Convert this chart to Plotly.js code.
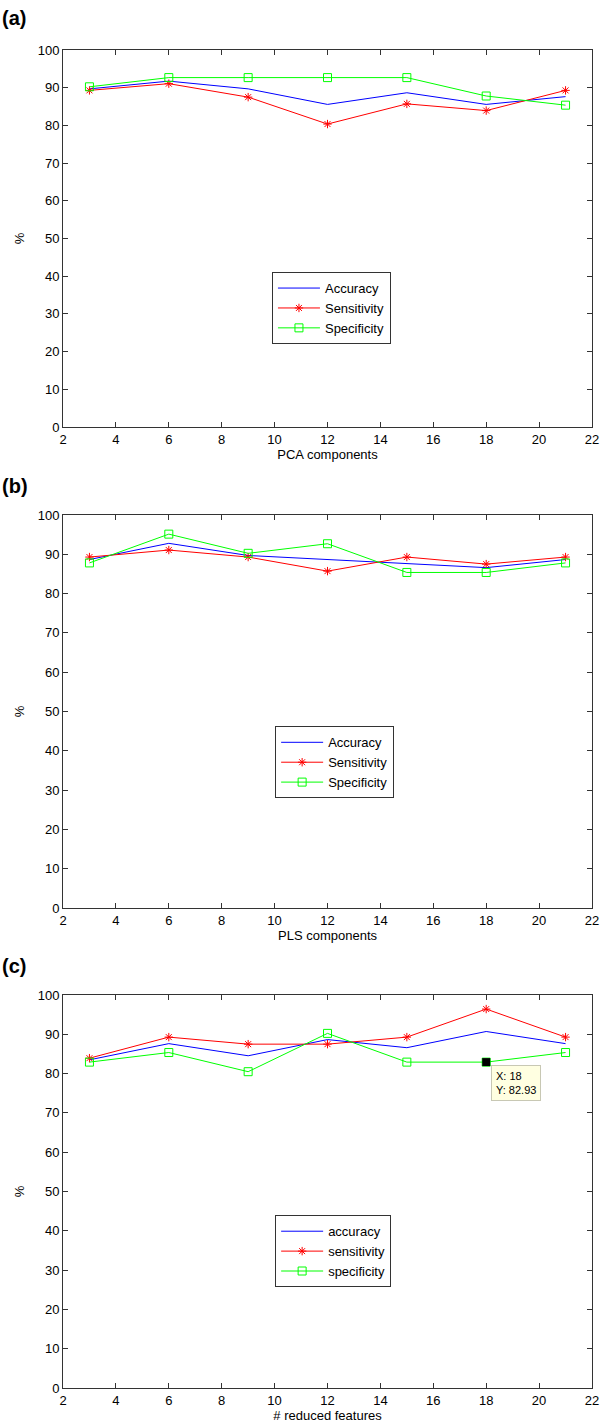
<!DOCTYPE html>
<html><head><meta charset="utf-8">
<script src="https://cdn.plot.ly/plotly-3.0.1.min.js"></script>
<style>body{margin:0;background:#fff}#chart{width:600px;height:1425px}</style>
</head><body><div id="chart"></div>
<script>
const xs = [3, 6, 9, 12, 15, 18, 21];

const pcaAccuracy    = [89.69, 91.75, 89.69, 85.57, 88.66, 85.57, 87.63];
const pcaSensitivity = [89.29, 91.07, 87.50, 80.36, 85.71, 83.93, 89.29];
const pcaSpecificity = [90.24, 92.68, 92.68, 92.68, 92.68, 87.80, 85.37];

const plsAccuracy    = [88.66, 92.78, 89.69, 88.66, 87.63, 86.60, 88.66];
const plsSensitivity = [89.29, 91.07, 89.29, 85.71, 89.29, 87.50, 89.29];
const plsSpecificity = [87.80, 95.12, 90.24, 92.68, 85.37, 85.37, 87.80];

const redAccuracy    = [83.51, 87.63, 84.54, 88.66, 86.60, 90.72, 87.63];
const redSensitivity = [83.93, 89.29, 87.50, 87.50, 89.29, 96.43, 89.29];
const redSpecificity = [82.93, 85.37, 80.49, 90.24, 82.93, 82.93, 85.37];

const namesUpper = ["Accuracy", "Sensitivity", "Specificity"];
const namesLower = ["accuracy", "sensitivity", "specificity"];
const xTitles = ["PCA components", "PLS components", "# reduced features"];
const panelLabels = ["(a)", "(b)", "(c)"];
const tipX = [18];
const tipY = [82.93];

const FONT = "Liberation Sans, Arial, Helvetica, sans-serif";
const panels = [
  {acc: pcaAccuracy, sen: pcaSensitivity, spe: pcaSpecificity, names: namesUpper},
  {acc: plsAccuracy, sen: plsSensitivity, spe: plsSpecificity, names: namesUpper},
  {acc: redAccuracy, sen: redSensitivity, spe: redSpecificity, names: namesLower}
];
const legendIds = ["legend", "legend2", "legend3"];
const data = [];
panels.forEach((p, i) => {
  const ax = i === 0 ? "" : String(i + 1);
  const common = {x: xs, xaxis: "x" + ax, yaxis: "y" + ax, legend: legendIds[i], type: "scatter"};
  data.push(Object.assign({}, common, {y: p.acc, name: p.names[0], mode: "lines",
    line: {color: "#0000ff", width: 1}}));
  data.push(Object.assign({}, common, {y: p.sen, name: p.names[1], mode: "lines+markers",
    line: {color: "#ff0000", width: 1},
    marker: {symbol: "asterisk-open", size: 7, color: "#ff0000", line: {color: "#ff0000", width: 1}}}));
  data.push(Object.assign({}, common, {y: p.spe, name: p.names[2], mode: "lines+markers",
    line: {color: "#00ff00", width: 1},
    marker: {symbol: "square-open", size: 8, color: "#00ff00", line: {color: "#00ff00", width: 1}}}));
});
data.push({x: tipX, y: tipY, xaxis: "x3", yaxis: "y3", mode: "markers", showlegend: false,
  marker: {symbol: "square", size: 8, color: "#000000"}, hoverinfo: "skip"});

const domains = [[0.7182, 1.0], [0.3587, 0.6525], [0.0, 0.2937]];
const layout = {
  width: 600, height: 1425,
  margin: {l: 63, r: 8, t: 50, b: 37},
  paper_bgcolor: "#ffffff", plot_bgcolor: "#ffffff",
  font: {family: FONT, size: 13, color: "#000000"},
  showlegend: true,
  annotations: []
};
const legendPos = [
  {x: 0.395, y: 0.8340},
  {x: 0.401, y: 0.4945},
  {x: 0.401, y: 0.1291}
];
for (let i = 0; i < 3; i++) {
  const ax = i === 0 ? "" : String(i + 1);
  layout["xaxis" + ax] = {
    domain: [0, 1], anchor: "y" + ax, range: [2, 22], dtick: 2, tick0: 2,
    ticks: "inside", ticklen: 5, tickcolor: "#333", mirror: "ticks",
    showline: true, linecolor: "#333", linewidth: 1, showgrid: false, zeroline: false,
    tickfont: {size: 13, family: FONT}, fixedrange: true,
    title: {text: xTitles[i], font: {size: 13, family: FONT}, standoff: 3}
  };
  layout["yaxis" + ax] = {
    domain: domains[i], anchor: "x" + ax, range: [0, 100], dtick: 10, tick0: 0,
    ticks: "inside", ticklen: 5, tickcolor: "#333", mirror: "ticks",
    showline: true, linecolor: "#333", linewidth: 1, showgrid: false, zeroline: false,
    tickfont: {size: 13, family: FONT}, fixedrange: true,
    title: {text: "%", font: {size: 13, family: FONT}, standoff: 10}
  };
  layout[legendIds[i]] = {
    x: legendPos[i].x, y: legendPos[i].y, xanchor: "left", yanchor: "top",
    xref: "paper", yref: "paper",
    bgcolor: "#ffffff", bordercolor: "#333333", borderwidth: 1,
    font: {size: 13, family: FONT}, itemwidth: 42, tracegroupgap: 0
  };
  layout.annotations.push({
    text: "<b>" + panelLabels[i] + "</b>", xref: "paper", yref: "paper",
    x: -0.119, xanchor: "left", y: [1.0239, 0.6741, 0.3154][i], yanchor: "middle",
    showarrow: false, font: {size: 20, family: FONT, color: "#000"}
  });
}
layout.annotations.push({
  text: "X: " + tipX[0] + "<br>Y: " + tipY[0].toFixed(2),
  xref: "x3", yref: "y3", x: tipX[0], y: tipY[0],
  xanchor: "left", yanchor: "top", xshift: 5, yshift: -3,
  align: "left", showarrow: false,
  bgcolor: "#ffffe1", bordercolor: "#c8c8b4", borderwidth: 1, borderpad: 4,
  font: {size: 11, family: FONT, color: "#000"}
});
Plotly.newPlot("chart", data, layout, {displayModeBar: false, staticPlot: true});
</script></body></html>
